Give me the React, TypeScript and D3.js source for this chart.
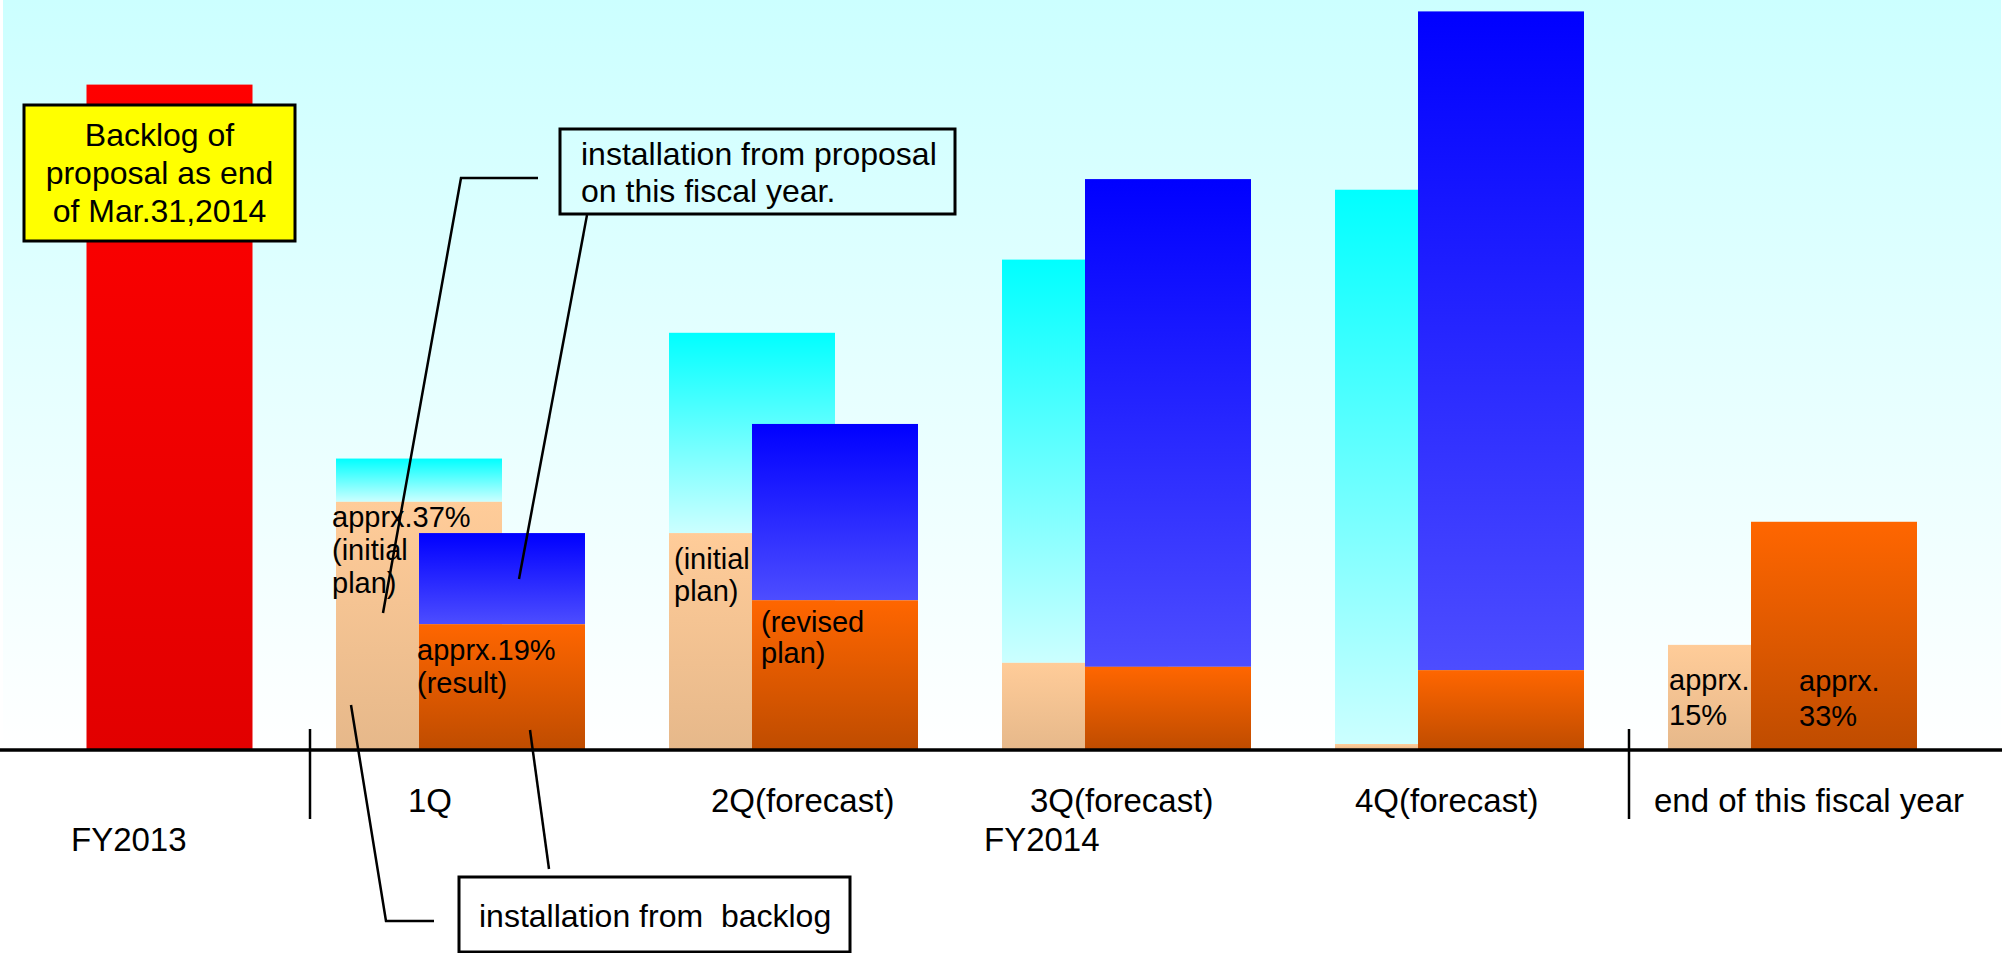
import React from "react";
import * as d3 from "d3";

// ---- data (values relative to FY2013 backlog = 100) ----
const categories = ["1Q", "2Q(forecast)", "3Q(forecast)", "4Q(forecast)", "end of this fiscal year"];
const backlogFY2013 = 100;
const backlogInitialPlan = [37.3, 32.6, 13.1, 0.9, 15.8]; // peach
const proposalInitialPlan = [6.5, 30.1, 60.6, 83.3, 0]; // cyan (stacked on peach)
const backlogRevised = [18.9, 22.5, 12.5, 12.0, 34.3]; // orange
const proposalRevised = [13.7, 26.5, 73.3, 99.0, 0]; // blue (stacked on orange)

const periodLabels = ["FY2013", "FY2014"];
const backLabels = [
  ["apprx.37%", "(initial", "plan)"],
  ["(initial", "plan)"],
  [],
  [],
  ["apprx.", "15%"],
];
const frontLabels = [
  ["apprx.19%", "(result)"],
  ["(revised", "plan)"],
  [],
  [],
  ["apprx.", "33%"],
];
const yellowNote = ["Backlog of", "proposal as end", "of Mar.31,2014"];
const proposalNote = ["installation from proposal", "on this fiscal year."];
const backlogNote = "installation from\u00a0 backlog";

const W = 2009;
const H = 953;
const FONT = "'Liberation Sans', Arial, Helvetica, sans-serif";

export default function App() {
  const axisY = 750;
  const slot = d3.scaleLinear().domain([0, 6]).range([3, 2001]);
  const y = d3.scaleLinear().domain([0, backlogFY2013]).range([axisY, 84.6]);
  const barW = 166;
  const frontOff = 83;
  const h = (v: number) => axisY - y(v);

  const labelDx = [72, 42, 28, 20, -14];
  const backLabelPos = [
    { dx: -4, y0: 527, dy: 33 },
    { dx: 5, y0: 569, dy: 32 },
    null,
    null,
    { dx: 1, y0: 690, dy: 35 },
  ];
  const frontLabelPos = [
    { dx: -2, y0: 660, dy: 33 },
    { dx: 9, y0: 632, dy: 31 },
    null,
    null,
    { dx: 48, y0: 691, dy: 35 },
  ];
  const barFont = 29;
  const axisFont = 33;

  return (
    <svg
      width={W}
      height={H}
      style={{ position: "absolute", left: 0, top: 0, background: "#ffffff" }}
      fontFamily={FONT}
    >
      <defs>
        <linearGradient id="bg" x1="0" y1="0" x2="0" y2={axisY} gradientUnits="userSpaceOnUse">
          <stop offset="0" stopColor="#CCFFFF" />
          <stop offset="1" stopColor="#FFFFFF" />
        </linearGradient>
        <linearGradient id="gRed" x1="0" y1="0" x2="0" y2="1">
          <stop offset="0" stopColor="#FF0000" />
          <stop offset="1" stopColor="#E20000" />
        </linearGradient>
        <linearGradient id="gCyan" x1="0" y1="0" x2="0" y2="1">
          <stop offset="0" stopColor="#00FFFF" />
          <stop offset="1" stopColor="#CCFFFF" />
        </linearGradient>
        <linearGradient id="gPeach" x1="0" y1="0" x2="0" y2="1">
          <stop offset="0" stopColor="#FFCC99" />
          <stop offset="1" stopColor="#E6B88A" />
        </linearGradient>
        <linearGradient id="gBlue" x1="0" y1="0" x2="0" y2="1">
          <stop offset="0" stopColor="#0000FF" />
          <stop offset="1" stopColor="#4D4DFF" />
        </linearGradient>
        <linearGradient id="gOrange" x1="0" y1="0" x2="0" y2="1">
          <stop offset="0" stopColor="#FF6600" />
          <stop offset="1" stopColor="#BF4C00" />
        </linearGradient>
      </defs>

      {/* plot background */}
      <rect x={slot(0)} y={0} width={slot(6) - slot(0)} height={axisY} fill="url(#bg)" />

      {/* FY2013 backlog */}
      <rect
        x={(slot(0) + slot(1)) / 2 - barW / 2}
        y={y(backlogFY2013)}
        width={barW}
        height={h(backlogFY2013)}
        fill="url(#gRed)"
      />

      {/* back bars: initial plan */}
      {categories.map((c, i) => {
        const x0 = slot(i + 1);
        const p = backlogInitialPlan[i];
        const q = proposalInitialPlan[i];
        return (
          <g key={"b" + c}>
            {q > 0 && <rect x={x0} y={y(p + q)} width={barW} height={h(q)} fill="url(#gCyan)" />}
            <rect x={x0} y={y(p)} width={barW} height={h(p)} fill="url(#gPeach)" />
          </g>
        );
      })}

      {/* back labels */}
      {categories.map((c, i) => {
        const pos = backLabelPos[i];
        if (!pos) return null;
        return backLabels[i].map((t, k) => (
          <text key={"bl" + i + k} x={slot(i + 1) + pos.dx} y={pos.y0 + k * pos.dy} fontSize={barFont} fill="#000">
            {t}
          </text>
        ));
      })}

      {/* front bars: result / revised plan */}
      {categories.map((c, i) => {
        const x0 = slot(i + 1) + frontOff;
        const o = backlogRevised[i];
        const b = proposalRevised[i];
        return (
          <g key={"f" + c}>
            {b > 0 && <rect x={x0} y={y(o + b)} width={barW} height={h(b)} fill="url(#gBlue)" />}
            <rect x={x0} y={y(o)} width={barW} height={h(o)} fill="url(#gOrange)" />
          </g>
        );
      })}

      {/* front labels */}
      {categories.map((c, i) => {
        const pos = frontLabelPos[i];
        if (!pos) return null;
        return frontLabels[i].map((t, k) => (
          <text
            key={"fl" + i + k}
            x={slot(i + 1) + frontOff + pos.dx}
            y={pos.y0 + k * pos.dy}
            fontSize={barFont}
            fill="#000"
          >
            {t}
          </text>
        ));
      })}

      {/* axis */}
      <line x1={0} x2={slot(6) + 1} y1={axisY} y2={axisY} stroke="#000" strokeWidth={3.5} />
      <line x1={310} x2={310} y1={729} y2={819} stroke="#000" strokeWidth={2.5} />
      <line x1={1629} x2={1629} y1={729} y2={819} stroke="#000" strokeWidth={2.5} />

      {/* category labels */}
      {categories.map((c, i) => (
        <text key={"c" + c} x={slot(i + 1) + labelDx[i]} y={812} fontSize={axisFont} fill="#000">
          {c}
        </text>
      ))}
      <text x={71} y={851} fontSize={axisFont} fill="#000">
        {periodLabels[0]}
      </text>
      <text x={984} y={851} fontSize={axisFont} fill="#000">
        {periodLabels[1]}
      </text>

      {/* yellow note */}
      <rect x={24} y={105} width={271} height={136} fill="#FFFF00" stroke="#000" strokeWidth={3} />
      {yellowNote.map((t, k) => (
        <text key={"yn" + k} x={159.5} y={146 + k * 38} fontSize={32} textAnchor="middle" fill="#000">
          {t}
        </text>
      ))}

      {/* proposal callout */}
      <polyline points="538,178 461,178 383,613" fill="none" stroke="#000" strokeWidth={2.5} />
      <line x1={587} y1={215} x2={519} y2={579} stroke="#000" strokeWidth={2.5} />
      <rect x={560} y={129} width={395} height={85} fill="none" stroke="#000" strokeWidth={3} />
      {proposalNote.map((t, k) => (
        <text key={"pn" + k} x={581} y={165 + k * 37} fontSize={32} fill="#000">
          {t}
        </text>
      ))}

      {/* backlog callout */}
      <polyline points="351,705 386,921 434,921" fill="none" stroke="#000" strokeWidth={2.5} />
      <line x1={530} y1={730} x2={549} y2={869} stroke="#000" strokeWidth={2.5} />
      <rect x={459} y={877} width={391} height={75} fill="#FFFFFF" stroke="#000" strokeWidth={3} />
      <text x={479} y={927} fontSize={32} fill="#000">
        {backlogNote}
      </text>
    </svg>
  );
}
